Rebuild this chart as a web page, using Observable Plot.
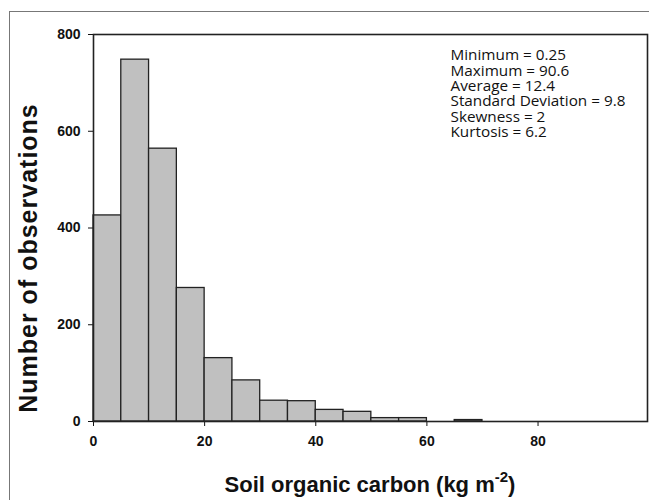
<!DOCTYPE html>
<html>
<head>
<meta charset="utf-8">
<script src="https://cdn.jsdelivr.net/npm/d3@7"></script>
<script src="https://cdn.jsdelivr.net/npm/@observablehq/plot@0.6"></script>
<style>
  html, body { margin: 0; padding: 0; background: #fff; }
  #wrap { position: relative; width: 649px; height: 500px; overflow: hidden; }
  #border { position: absolute; left: 9px; top: 11px; width: 700px; height: 600px;
            border-top: 1px solid #777; border-left: 1px solid #777; }
  #chart { position: absolute; left: 0; top: 0; }
</style>
</head>
<body>
<div id="wrap"><div id="border"></div><div id="chart"></div></div>
<script>
// Histogram bins (kg m-2), bin width 5
const binStart = [0, 5, 10, 15, 20, 25, 30, 35, 40, 45, 50, 55, 60, 65, 70, 75, 80, 85, 90, 95];
const counts   = [426, 748, 564, 276, 131, 85, 43, 42, 24, 20, 7, 7, 0, 3, 0, 0, 0, 0, 0, 0];
const binWidth = 5;
const xMax = 99.7;
const yTicks = [0, 200, 400, 600, 800];
const xTicks = [0, 20, 40, 60, 80];
const statNames  = ["Minimum", "Maximum", "Average", "Standard Deviation", "Skewness", "Kurtosis"];
const statValues = ["0.25", "90.6", "12.4", "9.8", "2", "6.2"];

const bins = binStart.map((s, i) => ({x1: s, x2: s + binWidth, n: counts[i]})).filter(d => d.n > 0);
const statsText = statNames.map((n, i) => `${n} = ${statValues[i]}`).join("\n");

const chart = Plot.plot({
  width: 649,
  height: 500,
  marginLeft: 93,
  marginRight: 2,
  marginTop: 34,
  marginBottom: 79,
  style: {fontFamily: "'Liberation Sans', Arial, sans-serif", fontSize: "14px", fontWeight: "bold", color: "#111", background: "transparent"},
  x: {domain: [0, xMax], ticks: xTicks, tickSize: 5, tickPadding: 10, label: null},
  y: {domain: [0, 800], ticks: yTicks, tickSize: 5, tickPadding: 8, label: null},
  marks: [
    Plot.rectY(bins, {x1: "x1", x2: "x2", y: "n", fill: "#c0c0c0", stroke: "#222", strokeWidth: 1.3}),
    Plot.frame({stroke: "#222", strokeWidth: 1.6}),
    Plot.text([statsText], {frameAnchor: "top-left", dx: 357, dy: 15, lineAnchor: "top", textAnchor: "start",
      fontFamily: "'Open Sans', Lato, sans-serif", fontWeight: "normal", fontSize: 15.3, lineHeight: 1.0, fill: "#111"})
  ]
});
document.getElementById("chart").appendChild(chart);

const svg = d3.select(chart);
// y axis title
svg.append("text")
  .attr("transform", "translate(37,258) rotate(-90)")
  .attr("text-anchor", "middle")
  .attr("font-family", "'Liberation Sans', Arial, sans-serif")
  .attr("font-weight", "bold")
  .attr("font-size", 25)
  .attr("letter-spacing", 1)
  .attr("fill", "#111")
  .text("Number of observations");
// x axis title with superscript, as real text
const t = svg.append("text")
  .attr("x", 370).attr("y", 492)
  .attr("text-anchor", "middle")
  .attr("font-family", "'Liberation Sans', Arial, sans-serif")
  .attr("font-weight", "bold")
  .attr("font-size", 22)
  .attr("fill", "#111");
t.append("tspan").text("Soil organic carbon (kg m");
t.append("tspan").attr("font-size", 15).attr("dy", -10).text("-2");
t.append("tspan").attr("dy", 10).text(")");
</script>
</body>
</html>
